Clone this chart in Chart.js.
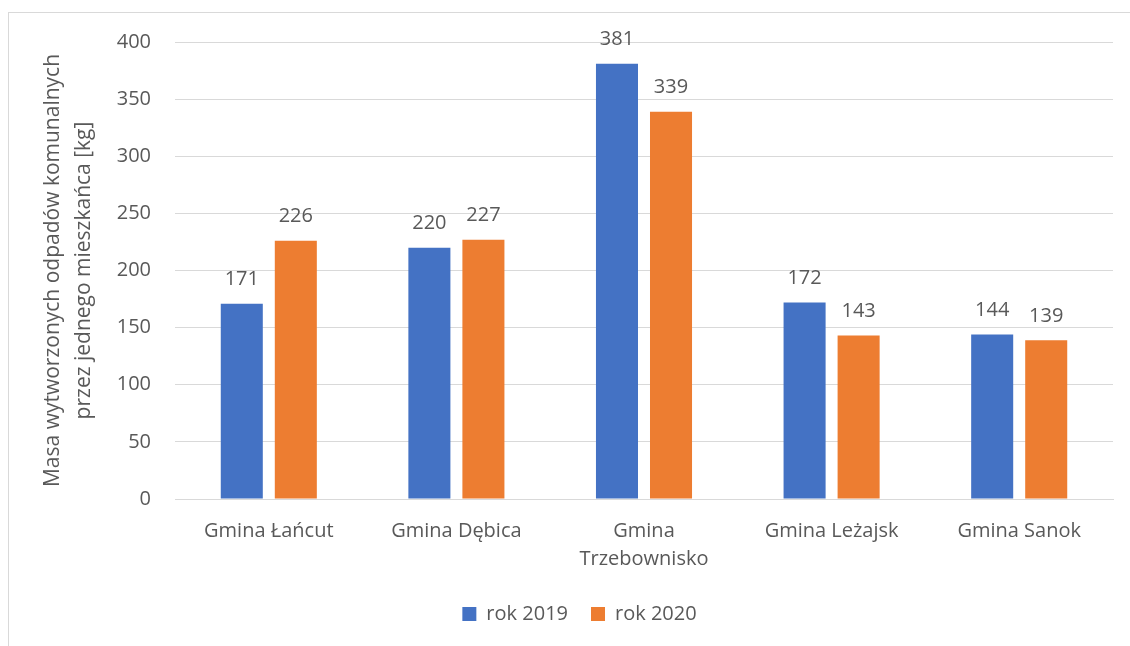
<!DOCTYPE html>
<html><head><meta charset="utf-8">
<script src="https://cdn.jsdelivr.net/npm/chart.js@4/dist/chart.umd.min.js"></script>
<style>
html,body{margin:0;padding:0;background:#fff;overflow:hidden;}
#wrap{position:relative;width:1130px;height:646px;}
#frame{position:absolute;left:8px;top:12px;width:1300px;height:800px;border:1px solid #d9d9d9;box-sizing:border-box;}
canvas{position:absolute;left:0;top:0;}
</style></head>
<body>
<div id="wrap"><div id="frame"></div><canvas id="c" width="1130" height="646"></canvas></div>
<script>
const categories = ["Gmina Łańcut", "Gmina Dębica", ["Gmina", "Trzebownisko"], "Gmina Leżajsk", "Gmina Sanok"];
const series2019 = [171, 220, 381, 172, 144];
const series2020 = [226, 227, 339, 143, 139];
const seriesNames = ["rok 2019", "rok 2020"];
const yTitle = ["Masa wytworzonych odpadów komunalnych", "przez jednego mieszkańca [kg]"];

const FONT = "'Open Sans', 'Liberation Sans', sans-serif";
const TXT = "#595959";

const valueLabels = {
  id: 'valueLabels',
  afterDatasetsDraw(chart) {
    const ctx = chart.ctx;
    ctx.save();
    ctx.font = "20px " + FONT;
    ctx.fillStyle = TXT;
    ctx.textAlign = 'center';
    ctx.textBaseline = 'middle';
    chart.data.datasets.forEach((ds, i) => {
      chart.getDatasetMeta(i).data.forEach((bar, j) => {
        ctx.fillText(String(ds.data[j]), bar.x, bar.y - 24);
      });
    });
    ctx.restore();
  }
};

new Chart(document.getElementById('c'), {
  type: 'bar',
  data: {
    labels: categories,
    datasets: [
      { label: seriesNames[0], data: series2019, backgroundColor: '#4472C4' },
      { label: seriesNames[1], data: series2020, backgroundColor: '#ED7D31' }
    ]
  },
  options: {
    responsive: false,
    animation: false,
    devicePixelRatio: 1,
    layout: { padding: { left: 46, right: 17, top: 42, bottom: 12 } },
    datasets: { bar: { categoryPercentage: 0.576, barPercentage: 0.778 } },
    plugins: {
      legend: {
        position: 'bottom',
        labels: { font: { family: FONT, size: 20 }, color: TXT, boxWidth: 14, boxHeight: 14, padding: 23 }
      },
      tooltip: { enabled: false }
    },
    scales: {
      x: {
        grid: { display: false, drawTicks: false },
        border: { display: true, color: '#d9d9d9', width: 1 },
        ticks: { font: { family: FONT, size: 20, lineHeight: 1.4 }, color: TXT, padding: 18, maxRotation: 0, autoSkip: false },
        afterFit(s) { s.height = 82; }
      },
      y: {
        min: 0, max: 400,
        ticks: { stepSize: 50, font: { family: FONT, size: 20 }, color: TXT, padding: 24 },
        grid: { color: '#d9d9d9', lineWidth: 1, drawTicks: false },
        border: { display: false },
        title: { display: true, text: yTitle, font: { family: FONT, size: 21, lineHeight: 1.5 }, color: TXT, padding: { top: -9, bottom: 0 } },
        afterFit(s) { s.width = 129; }
      }
    }
  },
  plugins: [valueLabels]
});
</script>
</body></html>
